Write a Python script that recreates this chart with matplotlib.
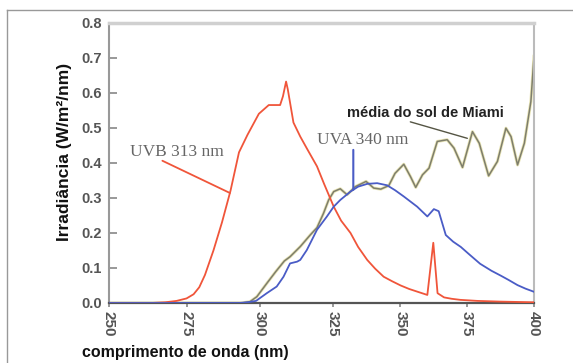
import numpy as np
import matplotlib
matplotlib.use("Agg")
import matplotlib.pyplot as plt
from matplotlib.lines import Line2D

# wavelength (nm) / irradiance (W/m2/nm)
uvb_wl = [250, 265, 270, 274, 277.5, 280, 282, 284, 287, 290, 293, 296, 299, 303, 306.5,
          310.5, 311.5, 312.6, 313.2, 315.2, 317.6, 320, 323.5, 326, 329.4, 332, 335.3, 338,
          341.2, 344, 347, 350, 353, 356, 359, 362.4, 364.5, 366, 368.3, 371, 374, 380, 388, 400]
uvb_irr = [0, 0, 0.002, 0.006, 0.013, 0.025, 0.045, 0.08, 0.15, 0.23, 0.32, 0.43, 0.48, 0.54, 0.565,
           0.565, 0.59, 0.632, 0.61, 0.515, 0.475, 0.44, 0.39, 0.34, 0.275, 0.235, 0.2, 0.16,
           0.123, 0.098, 0.075, 0.062, 0.05, 0.04, 0.032, 0.023, 0.172, 0.028, 0.016, 0.012, 0.009, 0.006, 0.004, 0.002]

uva_wl = [250, 296, 299, 302, 305.8, 309.3, 311.7, 314, 316.5, 317.6, 319.9, 323.5, 327, 329.4,
          331.7, 335.3, 338, 341.2, 344.7, 348.2, 351, 354.1, 358.8, 362.4, 364.7, 366.4, 368.9,
          371.5, 374.2, 377, 381, 385, 388.3, 391, 394.2, 397, 400]
uva_irr = [0, 0, 0.002, 0.006, 0.028, 0.047, 0.075, 0.113, 0.118, 0.123, 0.151, 0.209, 0.247, 0.275,
           0.294, 0.318, 0.332, 0.34, 0.342, 0.336, 0.322, 0.304, 0.275, 0.247, 0.268, 0.262, 0.194,
           0.175, 0.16, 0.14, 0.112, 0.092, 0.078, 0.066, 0.051, 0.041, 0.032]

sun_wl = [250, 297, 299.9, 302.3, 305.8, 309, 312, 314, 317.6, 321.1, 323.5, 325.8, 327.6, 329.4,
          331.7, 334.1, 337, 340.8, 343.5, 346, 348.8, 351, 354.1, 356.5, 358.3, 360.7, 363, 365.9,
          369.4, 371.8, 374.8, 378.3, 380.7, 384, 387.1, 390.1, 391.9, 394.2, 396.6, 398.9, 400]
sun_irr = [0, 0, 0.004, 0.018, 0.056, 0.09, 0.12, 0.132, 0.161, 0.194, 0.215, 0.256, 0.294, 0.318,
           0.326, 0.309, 0.332, 0.347, 0.328, 0.325, 0.335, 0.37, 0.396, 0.36, 0.33, 0.366, 0.385, 0.461,
           0.466, 0.442, 0.387, 0.489, 0.456, 0.363, 0.404, 0.499, 0.475, 0.394, 0.456, 0.575, 0.704]

yticks = [0.0, 0.1, 0.2, 0.3, 0.4, 0.5, 0.6, 0.7, 0.8]
xtick_labels = ["250", "275", "300", "325", "350", "375", "400"]
# the tick labels in the original sit slightly off a uniform grid
xtick_pos = [250, 277.6, 303.4, 329.2, 352.9, 376.3, 400]

red = "#f0553a"
blue = "#4a5cc6"
olive = "#7e7e6c"
tick_font = ["Liberation Sans", "DejaVu Sans"]

fig = plt.figure(figsize=(5.73, 3.63), dpi=100)
W, H = 573, 363
ax = fig.add_axes([108.5 / W, (H - 303) / H, (534 - 108.5) / W, (303 - 22.7) / H])

# outer frame (only top and left edges visible)
fig.add_artist(Line2D([7 / W, 1.0], [1 - 10 / H, 1 - 10 / H], color="#999999", lw=1))
fig.add_artist(Line2D([7 / W, 7 / W], [0, 1 - 10 / H], color="#999999", lw=1))

ax.plot(uvb_wl, uvb_irr, color=red, lw=1.3, zorder=3)
ax.plot(sun_wl, sun_irr, color="#e8e4b4", lw=2.2, zorder=2)
ax.plot(sun_wl, sun_irr, color=olive, lw=1.1, zorder=2.1)
ax.plot(uva_wl, uva_irr, color=blue, lw=1.3, zorder=4)

ax.set_xlim(250, 400)
ax.set_ylim(0, 0.8)
ax.set_yticks(yticks)
ax.set_yticklabels([f"{v:.1f}" for v in yticks], family=tick_font, fontweight="bold",
                   fontsize=10.5, color="#555555")
ax.set_xticks(xtick_pos)
ax.set_xticklabels(xtick_labels, rotation=-90, family=tick_font, fontweight="bold",
                   fontsize=11, color="#555555")
ax.tick_params(axis="y", direction="in", length=6, width=1.2, color="#888888", pad=5)
ax.tick_params(axis="x", direction="out", length=3, width=1.2, color="#888888", pad=3)

ax.spines["left"].set_color("#999999")
ax.spines["left"].set_linewidth(1.5)
ax.spines["bottom"].set_color("#555555")
ax.spines["bottom"].set_linewidth(1.6)
ax.spines["top"].set_color("#d0d0d0")
ax.spines["top"].set_linewidth(2.5)
ax.spines["right"].set_color("#bbbbbb")
ax.spines["right"].set_linewidth(1.5)

# labels on the curves
ax.text(257.6, 0.431, "UVB 313 nm", family=["Liberation Serif", "DejaVu Serif"],
        fontsize=12.5, color="#666666", ha="left", va="center")
ax.annotate("", xy=(292.8, np.interp(292.8, uvb_wl, uvb_irr)), xytext=(269.0, 0.406),
            arrowprops=dict(arrowstyle="-", color=red, lw=1.3, shrinkA=0, shrinkB=0))

ax.text(323.5, 0.466, "UVA 340 nm", family=["Liberation Serif", "DejaVu Serif"],
        fontsize=12.5, color="#666666", ha="left", va="center")
ax.annotate("", xy=(336.3, np.interp(336.3, uva_wl, uva_irr)), xytext=(336.3, 0.437),
            arrowprops=dict(arrowstyle="-", color=blue, lw=1.5, shrinkA=0, shrinkB=0))

ax.text(334.1, 0.543, "média do sol de Miami", family=["Liberation Sans", "DejaVu Sans"],
        fontsize=10.5, fontweight="bold", color="#222222", ha="left", va="center")
ax.annotate("", xy=(376.5, 0.47), xytext=(356.4, 0.517),
            arrowprops=dict(arrowstyle="-", color="#555544", lw=1.0, shrinkA=0, shrinkB=0))

fig.text(65 / W, 1 - 152 / H, "Irradiância (W/m²/nm)", rotation=90, ha="center", va="center",
         family=["Liberation Sans", "DejaVu Sans"], fontsize=12.5, fontweight="bold", color="#111111")
fig.text(82 / W, 1 - 353 / H, "comprimento de onda (nm)", ha="left", va="center",
         family=["Liberation Sans", "DejaVu Sans"], fontsize=11.5, fontweight="bold", color="#111111")

fig.savefig("out.png", dpi=100)
